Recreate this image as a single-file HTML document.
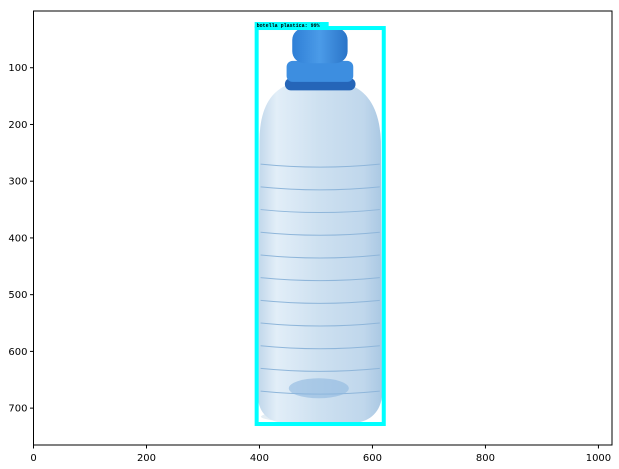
<!DOCTYPE html>
<html><head><meta charset="utf-8"><style>
body{margin:0;background:#fff;}
svg{display:block;font-family:"DejaVu Sans","Liberation Sans",sans-serif;}
</style></head><body>
<svg width="619" height="469" viewBox="0 0 619 469">
<defs>
<linearGradient id="body" x1="0" x2="1" y1="0" y2="0">
<stop offset="0" stop-color="#c0d6ea"/><stop offset="0.15" stop-color="#e2eef8"/><stop offset="0.5" stop-color="#cde0f0"/><stop offset="0.85" stop-color="#c0d7ec"/><stop offset="1" stop-color="#aac8e3"/></linearGradient>
<linearGradient id="cap" x1="0" x2="1"><stop offset="0" stop-color="#2f7fd6"/><stop offset="0.5" stop-color="#4b9be8"/><stop offset="1" stop-color="#2a74c8"/></linearGradient>
</defs>
<g id="plot"></g>
</svg>
<script>
const xTicks=[0,200,400,600,800,1000];
const yTicks=[100,200,300,400,500,600,700];
const imgW=1024, imgH=765;
const box={x0:395,y0:30,x1:620,y1:728};
const label="botella plastica: 99%";
const L=33.5,R=612,T=11,B=445;
const sx=v=>L+v*(R-L)/imgW, sy=v=>T+v*(B-T)/imgH;
const NS="http://www.w3.org/2000/svg";
const g=document.getElementById('plot');
function el(t,a,p){const e=document.createElementNS(NS,t);for(const k in a)e.setAttribute(k,a[k]);(p||g).appendChild(e);return e;}
const bg=el('rect',{x:L,y:T,width:R-L,height:B-T,fill:'#fff'});


const bottle=el('g',{});


el('ellipse',{cx:sx(500),cy:sy(715),rx:55,ry:6,fill:'#e3edf4'},bottle);
el('path',{d:`M${sx(400)} ${sy(230)} Q${sx(400)} ${sy(150)} ${sx(450)} ${sy(130)} L${sx(560)} ${sy(130)} Q${sx(612)} ${sy(150)} ${sx(615)} ${sy(230)} L${sx(617)} ${sy(680)} Q${sx(610)} ${sy(725)} ${sx(560)} ${sy(727)} L${sx(450)} ${sy(727)} Q${sx(400)} ${sy(725)} ${sx(397)} ${sy(680)} Z`,fill:'url(#body)'},bottle);
for(let i=0;i<11;i++){const yy=sy(270+i*40);el('path',{d:`M${sx(402)} ${yy} Q${sx(507)} ${yy+6} ${sx(613)} ${yy}`,stroke:'#8fb6da',fill:'none','stroke-width':1},bottle);}
el('ellipse',{cx:sx(505),cy:sy(665),rx:30,ry:10,fill:'#8db8e0',opacity:0.6},bottle);
el('rect',{x:sx(445),y:sy(118),width:sx(570)-sx(445),height:sy(140)-sy(118),rx:6,fill:'#2565b8'},bottle);
el('rect',{x:sx(448),y:sy(88),width:sx(566)-sx(448),height:sy(125)-sy(88),rx:6,fill:'#3d8ee0'},bottle);
el('rect',{x:sx(458),y:sy(30),width:sx(556)-sx(458),height:sy(92)-sy(30),rx:12,fill:'url(#cap)'},bottle);
const bx=el('rect',{x:sx(box.x0),y:sy(box.y0),width:sx(box.x1)-sx(box.x0),height:sy(box.y1)-sy(box.y0),fill:'none',stroke:'#00ffff','stroke-width':4});


const lb=el('rect',{x:sx(box.x0)-2,y:sy(box.y0)-6,width:74,height:6,fill:'#00ffff'});


const lt=el('text',{x:sx(box.x0),y:sy(box.y0)-1,'font-size':5,'font-weight':'bold',fill:'#000','font-family':'Liberation Mono,monospace'});
lt.textContent=label;


const fr=el('rect',{x:L,y:T,width:R-L,height:B-T,fill:'none',stroke:'#000','stroke-width':1});


xTicks.forEach(v=>{const x=sx(v);
 el('line',{x1:x,x2:x,y1:B,y2:B+3.5,stroke:'#000'});
 const t=el('text',{x:x,y:B+16,'font-size':10,'text-anchor':'middle',fill:'#000'});t.textContent=v;
 
 });
yTicks.forEach(v=>{const y=sy(v);
 el('line',{x1:L-3.5,x2:L,y1:y,y2:y,stroke:'#000'});
 const t=el('text',{x:L-6,y:y+3.5,'font-size':10,'text-anchor':'end',fill:'#000'});t.textContent=v;
 
 });
</script>
</body></html>
